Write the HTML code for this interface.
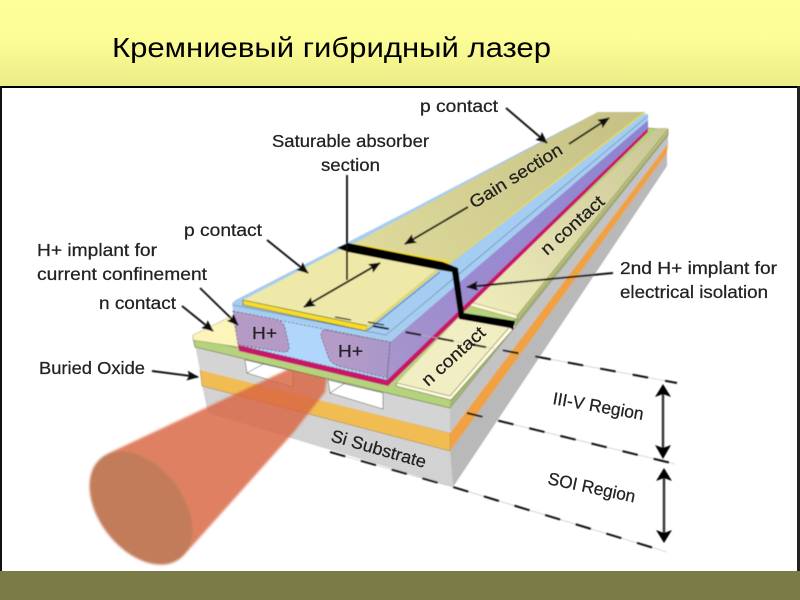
<!DOCTYPE html>
<html><head><meta charset="utf-8"><style>
html,body{margin:0;padding:0;background:#fff}
svg{display:block}
text{font-family:"Liberation Sans",sans-serif;fill:#222}
.l text{stroke:#222;stroke-width:.25}
</style></head><body>
<svg width="800" height="600" viewBox="0 0 800 600" xmlns="http://www.w3.org/2000/svg">
<defs>
<linearGradient id="hd" x1="0" y1="0" x2="0" y2="1"><stop offset="0" stop-color="#ffff99"/><stop offset=".45" stop-color="#fdfd97"/><stop offset="1" stop-color="#ecec88"/></linearGradient>
<linearGradient id="gain" gradientUnits="userSpaceOnUse" x1="350" y1="250" x2="640" y2="110"><stop offset="0" stop-color="#dfdb9c"/><stop offset="1" stop-color="#c5c084"/></linearGradient>
<linearGradient id="nc" gradientUnits="userSpaceOnUse" x1="470" y1="310" x2="665" y2="130"><stop offset="0" stop-color="#f0ecbc"/><stop offset="1" stop-color="#cac696"/></linearGradient>
<linearGradient id="pur" gradientUnits="userSpaceOnUse" x1="385" y1="360" x2="650" y2="125"><stop offset="0" stop-color="#a795cc"/><stop offset=".3" stop-color="#9c8bd0"/><stop offset="1" stop-color="#8f84d0"/></linearGradient>
<linearGradient id="patch" gradientUnits="userSpaceOnUse" x1="330" y1="350" x2="395" y2="360"><stop offset="0" stop-color="#b69bc8"/><stop offset="1" stop-color="#a898ca"/></linearGradient>
<filter id="soft" x="-5%" y="-5%" width="110%" height="110%"><feGaussianBlur stdDeviation="0.45"/></filter>
<filter id="bb" x="-10%" y="-10%" width="120%" height="120%"><feGaussianBlur stdDeviation="1.1"/></filter>
<marker id="a" markerWidth="12" markerHeight="10" refX="11" refY="5" orient="auto" markerUnits="userSpaceOnUse"><path d="M0,0L12,5L0,10L2,5Z" fill="#111"/></marker>
<marker id="as" markerWidth="12" markerHeight="10" refX="1" refY="5" orient="auto" markerUnits="userSpaceOnUse"><path d="M12,0L0,5L12,10L10,5Z" fill="#111"/></marker>
</defs>

<rect width="800" height="600" fill="#fff"/>
<rect width="800" height="86" fill="url(#hd)"/>
<rect x="0" y="86" width="800" height="2" fill="#000"/>
<rect x="0" y="86" width="2" height="486" fill="#111"/>
<rect x="797" y="86" width="3" height="486" fill="#222"/>
<rect x="0" y="571" width="800" height="29" fill="#7b7b47"/>
<text x="112" y="57" font-size="28" textLength="439" lengthAdjust="spacingAndGlyphs" style="fill:#000">Кремниевый гибридный лазер</text>

<g filter="url(#soft)">
<!-- substrate -->
<polygon points="202,385 450,450 453,487 208,413" fill="#d2d2d2"/>
<polygon points="450,450 667,152 667,166 453,487" fill="#b9b9b9"/>
<!-- oxide -->
<polygon points="200,369 450,433 450,451 202,386" fill="#f1bd52" stroke="#8a7a40" stroke-width=".5"/>
<polygon points="450,433 668,143 667,153 450,451" fill="#f0a243"/>
<!-- top si -->
<polygon points="195,345 450,408 450,433 200,370" fill="#d4d4d4"/>
<polygon points="450,406 668,134 668,144 450,433" fill="#c3c3c3"/>
<polygon points="245,360 293,371 293,387 247,373" fill="#fff" stroke="#555" stroke-width=".6"/>
<path d="M247,373L265,363" stroke="#666" stroke-width=".7"/>
<polygon points="328,380 383,393 383,409 330,393" fill="#fff" stroke="#555" stroke-width=".6"/>
<path d="M330,393L345,383" stroke="#666" stroke-width=".7"/>

<!-- beam -->
<g filter="url(#bb)">
<polygon points="107,454 293,367 327,377 325,392 293,433 184,555 141,508" fill="#d9653f" fill-opacity=".82"/>
<ellipse cx="141" cy="508" rx="64" ry="42" transform="rotate(52 141 508)" fill="#c27b5a"/>
</g>

<!-- green -->
<polygon points="193,338 387,380 648,128 668,130 668,135 450,408 195,347" fill="#b5d27c" stroke="#59663a" stroke-width=".6"/>
<polygon points="450,398 668,130 668,135 450,408" fill="#a3b873"/>
<!-- n contact left -->
<polygon points="193,335 232,316 240,347 232,346 193,340" fill="#fcf4b9" stroke="#777" stroke-width=".4"/>
<!-- n contact front -->
<polygon points="397,383 463,313 513,323 450,396" fill="#f2eec3"/>
<polygon points="397,383 450,396 513,323 516,326 451,400 396,386" fill="#fffde0" stroke="#6c7040" stroke-width=".6"/>
<!-- n contact back -->
<polygon points="470,302 517,315 668,128 658,128" fill="url(#nc)"/>
<polygon points="470,302 517,315 517,319 470,306" fill="#fbf8cf" stroke="#6c7040" stroke-width=".4"/>
<polygon points="517,316 668,129 668,134 517,321" fill="#b9bb7c" stroke="#7a7d50" stroke-width=".4"/>

<!-- magenta -->
<polygon points="238,345 387,380 648,128 648,132 388,386 239,351" fill="#c9126d"/>
<!-- purple -->
<polygon points="390,342 648,120 648,128 387,380" fill="url(#pur)"/>
<!-- blue top -->
<polygon points="232,303 598,112 648,114 648,120 390,342 233,310" fill="#a5cdf2"/>
<polygon points="232,303 598,112 600,112 236,300" fill="#8fb3d8"/>
<path d="M386,335L648,116" stroke="#6d8fb3" stroke-width=".8" fill="none"/>
<path d="M233,305L386,335" stroke="#6d8fb3" stroke-width=".8" fill="none"/>
<!-- front -->
<polygon points="233,310 390,342 387,380 238,345" fill="#b0d6fb"/>
<path d="M233,311L389,342" stroke="#556" stroke-width=".7" stroke-dasharray="2.5 1.5" fill="none"/>
<path d="M238,345L387,380L390,342" stroke="#556" stroke-width=".6" stroke-dasharray="2.5 1.5" fill="none"/>
<path d="M233,311L275,319Q283,321 285,328L289,346Q290,352 284,352L238,345Z" fill="#b59ac6" stroke="#555" stroke-width=".7" stroke-dasharray="2.5 1.5"/>
<path d="M326,330L390,342L387,378L338,366Q330,363 328,356L321,336Q321,329 326,330Z" fill="url(#patch)" stroke="#555" stroke-width=".7" stroke-dasharray="2.5 1.5"/>
<!-- plates -->
<polygon points="243,300 347,246 438,268 368,326" fill="#eee9a8"/>
<polygon points="598,112 645,112 448,263 351,245" fill="url(#gain)"/>
<polygon points="243,300 368,326 366,331 243,305" fill="#f6dc28" stroke="#3a3a18" stroke-width=".6"/>
<path d="M366,328L438,270" stroke="#e8d840" stroke-width="2" fill="none"/>
<path d="M368,330L440,272" stroke="#333" stroke-width=".6" fill="none"/>
<path d="M448,264L645,112" stroke="#e6d850" stroke-width="1.6" fill="none"/>
<polygon points="352,243 449,261 448,266 352,248" fill="#f6dc28"/>
<path d="M335,317L351,320M368,322L384,325" stroke="#111" stroke-width="1.2" fill="none"/>
<!-- black isolation -->
<polygon points="337,248 348,243 443,262 458,268 464,313 515,321 513,330 510,328 459,319 452,272 440,270 348,252" fill="#000"/>

<!-- dashed guide lines -->
<g fill="none">
<path d="M373,326L677,383" stroke="#bbb" stroke-width=".6"/>
<path d="M467,413L675,464" stroke="#bbb" stroke-width=".6"/>
<path d="M330,452L453,487L667,552" stroke="#bbb" stroke-width=".6"/>
<path d="M373,326L677,383" stroke="#111" stroke-width="2" stroke-dasharray="16 17"/>
<path d="M467,413L675,464" stroke="#111" stroke-width="2" stroke-dasharray="16 16"/>
<path d="M330,452L453,487L667,552" stroke="#111" stroke-width="2" stroke-dasharray="16 16"/>
</g>

<!-- leader arrows -->
<g stroke="#111" stroke-width="1.9" fill="none">
<path d="M506,108L547,143" marker-end="url(#a)"/>
<path d="M569,144L609,118" marker-end="url(#a)"/>
<path d="M468,207L405,244" marker-end="url(#a)"/>
<path d="M347,175L347,280"/>
<path d="M304,307L380,263" marker-start="url(#as)" marker-end="url(#a)"/>
<path d="M267,240L308,273" marker-end="url(#a)"/>
<path d="M200,288L238,325" marker-end="url(#a)"/>
<path d="M182,306L213,331" marker-end="url(#a)"/>
<path d="M152,371L198,377" marker-end="url(#a)"/>
<path d="M613,273L467,287" marker-end="url(#a)"/>
</g>
<!-- dimension arrows -->
<path d="M663,392V452" stroke="#333" stroke-width="2.4"/>
<path d="M663,384L671,397L663,394L655,397Z M663,459L671,445L663,448L655,445Z" fill="#000"/>
<path d="M664,476V536" stroke="#333" stroke-width="2.4"/>
<path d="M664,468L672,481L664,478L656,481Z M664,543L672,530L664,533L656,530Z" fill="#000"/>
</g>

<!-- labels -->
<g font-size="17.5" class="l">
<text x="420" y="112" textLength="78" lengthAdjust="spacingAndGlyphs">p contact</text>
<text x="272" y="147" textLength="157" lengthAdjust="spacingAndGlyphs">Saturable absorber</text>
<text x="321" y="171" textLength="59" lengthAdjust="spacingAndGlyphs">section</text>
<text x="184" y="236" textLength="78" lengthAdjust="spacingAndGlyphs">p contact</text>
<text x="37" y="256" textLength="120" lengthAdjust="spacingAndGlyphs">H+ implant for</text>
<text x="37" y="280" textLength="170" lengthAdjust="spacingAndGlyphs">current confinement</text>
<text x="99" y="309" textLength="77" lengthAdjust="spacingAndGlyphs">n contact</text>
<text x="39" y="374" textLength="106" lengthAdjust="spacingAndGlyphs">Buried Oxide</text>
<text x="620" y="274" textLength="157" lengthAdjust="spacingAndGlyphs">2nd H+ implant for</text>
<text x="620" y="298" textLength="148" lengthAdjust="spacingAndGlyphs">electrical isolation</text>
<text x="252" y="339" textLength="25" lengthAdjust="spacingAndGlyphs">H+</text>
<text x="338" y="357" textLength="25" lengthAdjust="spacingAndGlyphs">H+</text>
<text transform="translate(474,209) rotate(-32)" textLength="106" lengthAdjust="spacingAndGlyphs">Gain section</text>
<text transform="translate(547,256) rotate(-42)" textLength="79" lengthAdjust="spacingAndGlyphs">n contact</text>
<text transform="translate(428,387) rotate(-42)" textLength="79" lengthAdjust="spacingAndGlyphs">n contact</text>
<text transform="translate(330,441) rotate(16)" textLength="98" lengthAdjust="spacingAndGlyphs">Si Substrate</text>
<text transform="translate(552,404) rotate(10)" textLength="92" lengthAdjust="spacingAndGlyphs">III-V Region</text>
<text transform="translate(547,484) rotate(12)" textLength="89" lengthAdjust="spacingAndGlyphs">SOI Region</text>
</g>
</svg>
</body></html>
